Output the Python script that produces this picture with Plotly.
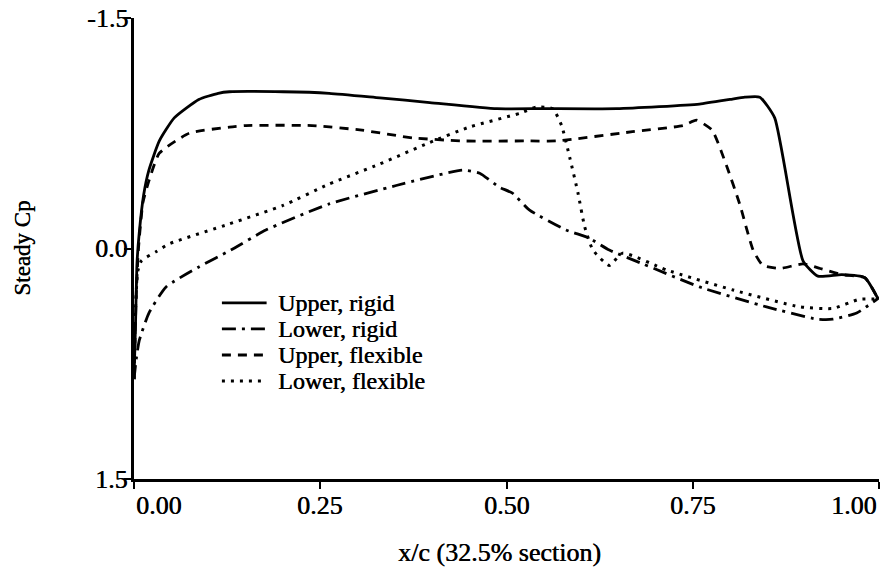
import plotly.graph_objects as go

# ---- data (x/c, steady Cp) ----
upper_rigid_x = [0.0, 0.002, 0.004, 0.007, 0.013, 0.020, 0.034, 0.054, 0.087, 0.113, 0.128, 0.20, 0.262,
                 0.33, 0.397, 0.487, 0.55, 0.648, 0.759, 0.80, 0.820, 0.840, 0.860, 0.898, 0.918,
                 0.95, 0.981, 0.999]
upper_rigid_cp = [0.85, 0.5, 0.1, -0.1, -0.35, -0.51, -0.70, -0.85, -0.97, -1.01, -1.02, -1.02, -1.01,
                  -0.98, -0.95, -0.91, -0.91, -0.91, -0.94, -0.97, -0.985, -0.985, -0.85, 0.08, 0.18,
                  0.17, 0.19, 0.33]

lower_rigid_x = [0.0, 0.003, 0.007, 0.020, 0.043, 0.087, 0.13, 0.177, 0.262, 0.352, 0.441, 0.464,
                 0.49, 0.508, 0.531, 0.58, 0.61, 0.638, 0.683, 0.759, 0.849, 0.917, 0.938, 0.970, 1.0]
lower_rigid_cp = [0.85, 0.72, 0.60, 0.42, 0.25, 0.12, 0.01, -0.12, -0.29, -0.41, -0.51, -0.49,
                  -0.40, -0.36, -0.25, -0.12, -0.07, 0.01, 0.10, 0.25, 0.38, 0.46, 0.46, 0.42, 0.32]

upper_flex_x = [0.0, 0.003, 0.006, 0.012, 0.020, 0.034, 0.074, 0.128, 0.15, 0.239, 0.306, 0.374,
                0.441, 0.531, 0.567, 0.669, 0.737, 0.755, 0.776, 0.796, 0.813, 0.831, 0.844, 0.867,
                0.898, 0.921, 0.95, 0.981, 0.999]
upper_flex_cp = [0.85, 0.3, 0.0, -0.3, -0.44, -0.62, -0.75, -0.79, -0.80, -0.80, -0.77, -0.72,
                 -0.70, -0.70, -0.70, -0.76, -0.80, -0.835, -0.77, -0.53, -0.29, 0.01, 0.11, 0.13,
                 0.10, 0.13, 0.17, 0.19, 0.33]

lower_flex_x = [0.0, 0.002, 0.005, 0.010, 0.03, 0.047, 0.128, 0.20, 0.262, 0.33, 0.397, 0.45, 0.518,
                0.540, 0.562, 0.574, 0.585, 0.596, 0.605, 0.616, 0.638, 0.656, 0.715, 0.804, 0.894,
                0.938, 0.974, 1.0]
lower_flex_cp = [0.85, 0.4, 0.15, 0.08, 0.02, -0.03, -0.16, -0.28, -0.42, -0.55, -0.69, -0.79, -0.88,
                 -0.92, -0.91, -0.80, -0.59, -0.36, -0.14, 0.01, 0.11, 0.03, 0.14, 0.27, 0.38,
                 0.39, 0.33, 0.33]

series_names = ["Upper, rigid", "Lower, rigid", "Upper, flexible", "Lower, flexible"]
x_tick_vals = [0.0, 0.25, 0.5, 0.75, 1.0]
x_tick_text = ["0.00", "0.25", "0.50", "0.75", "1.00"]
y_tick_vals = [-1.5, 0.0, 1.5]
y_tick_text = ["-1.5", "0.0", "1.5"]

FONT = "Liberation Serif"
SHADOW = "0.5px 0px 0px black"
dashes = ["solid", "14px,6px,3px,6px", "9px,7px", "3px,6px"]
widths = [2.8, 2.8, 2.8, 3.0]
series = [(upper_rigid_x, upper_rigid_cp), (lower_rigid_x, lower_rigid_cp),
          (upper_flex_x, upper_flex_cp), (lower_flex_x, lower_flex_cp)]


def tfont(size):
    return dict(family=FONT, size=size, color="black", shadow=SHADOW)


fig = go.Figure()
for (xs, ys), name, d, w in zip(series, series_names, dashes, widths):
    fig.add_trace(go.Scatter(x=xs, y=ys, mode="lines", name=name,
                             line=dict(color="black", width=w, dash=d, shape="spline", smoothing=0.5),
                             showlegend=False))

# custom legend inside the plot
leg_x0, leg_x1, leg_tx = 0.118, 0.178, 0.190
leg_y0, leg_dy = 0.382, 0.0565
for i, (name, d, w) in enumerate(zip(series_names, dashes, widths)):
    yy = leg_y0 - i * leg_dy
    fig.add_shape(type="line", xref="paper", yref="paper", x0=leg_x0, x1=leg_x1, y0=yy, y1=yy,
                  line=dict(color="black", width=w, dash=d))
    fig.add_annotation(xref="paper", yref="paper", x=leg_tx, y=yy, text=name, showarrow=False,
                       xanchor="left", yanchor="middle", font=tfont(24))

# x tick labels (first left-aligned, last right-aligned)
for v, t in zip(x_tick_vals, x_tick_text):
    anchor = "left" if v == x_tick_vals[0] else ("right" if v == x_tick_vals[-1] else "center")
    fig.add_annotation(xref="x", yref="paper", x=v, y=-0.022, text=t, showarrow=False,
                       xanchor=anchor, yanchor="top", font=tfont(26))

# y tick labels
for v, t in zip(y_tick_vals, y_tick_text):
    fig.add_annotation(xref="paper", yref="y", x=-0.005, y=v, text=t, showarrow=False,
                       xanchor="right", yanchor="middle", font=tfont(26))

fig.add_annotation(xref="paper", yref="paper", x=0.49, y=-0.16, text="x/c (32.5% section)",
                   showarrow=False, xanchor="center", yanchor="middle", font=tfont(26))
fig.add_annotation(xref="paper", yref="paper", x=-0.150, y=0.5, text="Steady Cp", textangle=-90,
                   showarrow=False, xanchor="center", yanchor="middle", font=tfont(23))

fig.update_layout(
    width=883, height=571,
    margin=dict(l=134, r=4, t=18, b=92),
    paper_bgcolor="white", plot_bgcolor="white",
    font=dict(family=FONT, size=21, color="black"),
)
fig.update_xaxes(range=[0, 1], showgrid=False, zeroline=False, showline=True, linecolor="black",
                 linewidth=3, ticks="outside", ticklen=7, tickwidth=1.5, tickcolor="black",
                 tickvals=x_tick_vals, showticklabels=False)
fig.update_yaxes(range=[1.5, -1.5], showgrid=False, zeroline=False, showline=True, linecolor="black",
                 linewidth=3, ticks="outside", ticklen=7, tickwidth=1.5, tickcolor="black",
                 tickvals=y_tick_vals, showticklabels=False)

fig.write_html("out.html")
